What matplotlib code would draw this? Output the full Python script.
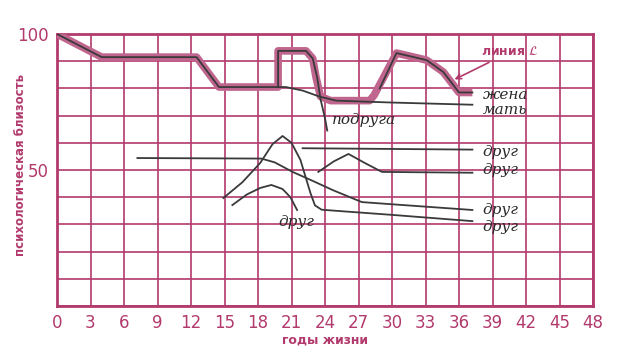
import numpy as np
import matplotlib.pyplot as plt

#%% data (age in years, closeness 0..100)
line_L_x = [0, 4, 12.5, 14.5, 19.8, 19.8, 22.3, 22.9, 23.2, 23.6, 24.5, 28.0, 28.4, 30.4, 33.1, 34.6, 36.0, 37.2]
line_L_y = [100, 91.5, 91.5, 80.5, 80.5, 93.8, 93.8, 91, 84, 77, 75.5, 75.5, 77.5, 93, 90.4, 86, 78.5, 78.5]

mother_x = [0, 4, 12.5, 14.5, 20.5, 22.0, 23.5, 25.0, 30.0, 37.2]
mother_y = [100, 91.5, 91.5, 80.5, 80.5, 79.2, 77.0, 75.5, 74.8, 74.0]

gfriend_x = [19.8, 19.8, 22.3, 22.9, 23.3, 23.6, 24.0, 24.2]
gfriend_y = [80.5, 93.8, 93.8, 91, 84, 76, 69, 64.5]

wife_x = [28.9, 30.4, 33.1, 34.6, 36.0, 37.2]
wife_y = [80, 93, 90.4, 86, 78.5, 78.5]

friend1_x = [22.0, 37.2]
friend1_y = [58.0, 57.5]

friend2_x = [23.4, 24.8, 26.1, 27.6, 29.1, 37.2]
friend2_y = [49.3, 53.2, 55.9, 52.5, 49.3, 49.0]

friend3_x = [7.2, 18.3, 19.5, 21.1, 22.9, 24.7, 27.3, 30.0, 37.2]
friend3_y = [54.4, 54.2, 52.8, 49.3, 46.0, 42.6, 38.2, 37.4, 35.3]

friend4_x = [14.9, 16.6, 18.2, 19.3, 20.2, 21.0, 21.8, 22.7, 23.1, 23.7, 25.0, 30.0, 37.2]
friend4_y = [39.7, 45.5, 52.6, 59.5, 62.5, 60.0, 53.7, 41.5, 37.0, 35.4, 35.0, 33.5, 31.2]

friend5_x = [15.7, 17.0, 18.2, 19.2, 20.2, 20.9, 21.5]
friend5_y = [37.1, 41.0, 43.4, 44.5, 43.0, 40.0, 35.3]

x_ticks = list(range(0, 49, 3))
y_ticks = list(range(0, 101, 10))

#%% styles
GRID = '#b23a6c'
PINK = '#c0668e'
INK = '#3a3a3a'
hand = dict(family='DejaVu Serif', style='italic', color='#2a2a2a', fontsize=11)

fig = plt.figure(figsize=(6.24, 3.64), dpi=100)
ax = fig.add_axes([57 / 624, 58 / 364, 536 / 624, 272 / 364])

ax.set_xlim(0, 48)
ax.set_ylim(0, 100)
ax.set_xticks(x_ticks)
ax.set_yticks(y_ticks)
ax.set_xticklabels([str(t) for t in x_ticks])
ax.set_yticklabels(['100' if t == 100 else '50' if t == 50 else '' for t in y_ticks])
ax.grid(True, color=GRID, linewidth=1.2)
ax.tick_params(length=0, colors=GRID, labelsize=12, pad=6)
for s in ax.spines.values():
    s.set_color(GRID)
    s.set_linewidth(2)

# thick pink "линия L" envelope
ax.plot(line_L_x, line_L_y, color=PINK, linewidth=5.5, solid_capstyle='butt', zorder=3)

for xs, ys in [(mother_x, mother_y), (gfriend_x, gfriend_y), (wife_x, wife_y),
               (friend1_x, friend1_y), (friend2_x, friend2_y), (friend3_x, friend3_y),
               (friend4_x, friend4_y), (friend5_x, friend5_y)]:
    ax.plot(xs, ys, color=INK, linewidth=1.3, zorder=4)

# handwritten labels
ax.text(38.1, 77.5, 'жена', va='center', **hand)
ax.text(38.1, 72.0, 'мать', va='center', **hand)
ax.text(24.6, 68.4, 'подруга', va='center', **hand)
ax.text(38.1, 56.6, 'друг', va='center', **hand)
ax.text(38.1, 50.0, 'друг', va='center', **hand)
ax.text(38.1, 35.3, 'друг', va='center', **hand)
ax.text(38.1, 29.0, 'друг', va='center', **hand)
ax.text(19.8, 31.0, 'друг', va='center', **hand)

ax.annotate('линия $\\mathcal{L}$', xy=(35.6, 83.3), xytext=(38.0, 93.4),
            color=GRID, fontsize=9, fontweight='bold', va='center',
            arrowprops=dict(arrowstyle='->', color=GRID, lw=1.2, shrinkA=2, shrinkB=0))

ax.set_xlabel('годы жизни', color=GRID, fontsize=9, fontweight='bold', labelpad=1)
fig.text(21 / 624, 1 - 165 / 364, 'психологическая близость', rotation=90,
         ha='center', va='center', color=GRID, fontsize=8.5, fontweight='bold')

fig.savefig('out.png', dpi=100)
